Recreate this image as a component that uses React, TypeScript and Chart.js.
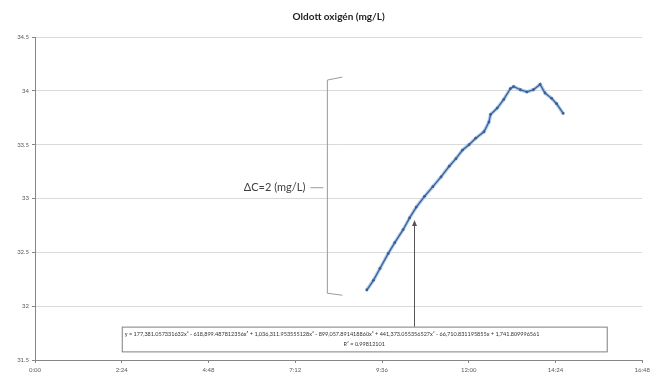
import React, { useEffect, useRef } from "react";
import { Chart, registerables } from "chart.js";

Chart.register(...registerables);

// time of day as fraction of a day
const times = [
  0.3824, 0.3901, 0.3976, 0.4072, 0.4147, 0.4243, 0.4318, 0.4395, 0.449, 0.4586,
  0.468, 0.4775, 0.4852, 0.4928, 0.5003, 0.508, 0.5175, 0.5232, 0.5251, 0.5328,
  0.5403, 0.5479, 0.5517, 0.5594, 0.567, 0.5745, 0.5822, 0.5879, 0.5955, 0.6012, 0.6088,
];
// dissolved oxygen (mg/L)
const oxygen = [
  32.15, 32.24, 32.35, 32.49, 32.59, 32.71, 32.82, 32.92, 33.02, 33.11,
  33.2, 33.3, 33.37, 33.45, 33.5, 33.56, 33.62, 33.71, 33.78, 33.84,
  33.92, 34.02, 34.04, 34.01, 33.99, 34.01, 34.06, 33.98, 33.93, 33.88, 33.79,
];

const title = "Oldott oxigén (mg/L)";
const deltaLabel = "ΔC=2 (mg/L)";
const equation =
  "y = 177,381.057331632x⁶ - 618,899.487812356x⁵ + 1,036,311.953555128x⁴ - 899,057.891418860x³ + 441,373.055356527x² - 66,710.831195855x + 1,741.809996561";
const rSquared = "R² = 0.99812101";

// annotation anchors in data units
const bracket = { x: 0.337, top: 34.1, bottom: 32.12, mid: 33.1 };
const arrow = { x: 0.437, tip: 32.8 };
const eqBox = { x0: 0.1, x1: 0.659, y0: 31.81, y1: 31.58 };

const xMin = 0, xMax = 0.7, xStep = 0.1;
const yMin = 31.5, yMax = 34.5, yStep = 0.5;

function fmtTime(v: number) {
  const mins = Math.round(v * 24 * 60);
  const h = Math.floor(mins / 60);
  const m = mins % 60;
  return h + ":" + String(m).padStart(2, "0");
}

const FONT = "Lato, 'Open Sans', 'DejaVu Sans', sans-serif";

export default function App() {
  const ref = useRef<HTMLCanvasElement | null>(null);

  useEffect(() => {
    if (!ref.current) return;
    const pts = times.map((t, i) => ({ x: t, y: oxygen[i] }));

    const overlay = {
      id: "overlay",
      afterDatasetsDraw(chart: any) {
        const ctx = chart.ctx;
        const xs = chart.scales.x;
        const ys = chart.scales.y;
        const ca = chart.chartArea;
        ctx.save();
        // title
        ctx.fillStyle = "#1f1f1f";
        ctx.font = "bold 10px " + FONT;
        ctx.textAlign = "center";
        ctx.textBaseline = "middle";
        ctx.fillText(title, (ca.left + ca.right) / 2, 17);

        // bracket
        const bx = xs.getPixelForValue(bracket.x);
        const bt = ys.getPixelForValue(bracket.top);
        const bb = ys.getPixelForValue(bracket.bottom);
        const bm = ys.getPixelForValue(bracket.mid);
        ctx.strokeStyle = "#9a9a9a";
        ctx.lineWidth = 1;
        ctx.beginPath();
        ctx.moveTo(bx + 15, bt - 3);
        ctx.lineTo(bx, bt);
        ctx.lineTo(bx, bb);
        ctx.lineTo(bx + 15, bb + 2);
        ctx.moveTo(bx - 4, bm);
        ctx.lineTo(bx - 17, bm);
        ctx.stroke();
        ctx.fillStyle = "#404040";
        ctx.font = "11px " + FONT;
        ctx.textAlign = "right";
        ctx.fillText(deltaLabel, bx - 22, bm);

        // equation box
        const ex0 = xs.getPixelForValue(eqBox.x0);
        const ex1 = xs.getPixelForValue(eqBox.x1);
        const ey0 = ys.getPixelForValue(eqBox.y0);
        const ey1 = ys.getPixelForValue(eqBox.y1);
        ctx.fillStyle = "#ffffff";
        ctx.fillRect(ex0, ey0, ex1 - ex0, ey1 - ey0);
        ctx.strokeStyle = "#7f7f7f";
        ctx.strokeRect(ex0 + 0.5, ey0 + 0.5, ex1 - ex0, ey1 - ey0);
        ctx.fillStyle = "#333333";
        ctx.font = "5.5px " + FONT;
        ctx.textAlign = "left";
        ctx.fillText(equation, ex0 + 3, ey0 + 8);
        ctx.textAlign = "center";
        ctx.fillText(rSquared, (ex0 + ex1) / 2 + 0, ey0 + 18);

        // arrow
        const ax = Math.round(xs.getPixelForValue(arrow.x)) + 0.5;
        const at = ys.getPixelForValue(arrow.tip);
        ctx.strokeStyle = "#555555";
        ctx.beginPath();
        ctx.moveTo(ax, ey0);
        ctx.lineTo(ax, at + 2);
        ctx.stroke();
        ctx.fillStyle = "#555555";
        ctx.beginPath();
        ctx.moveTo(ax, at);
        ctx.lineTo(ax - 2.5, at + 6);
        ctx.lineTo(ax + 2.5, at + 6);
        ctx.closePath();
        ctx.fill();
        ctx.restore();
      },
    };

    const chart = new Chart(ref.current, {
      type: "scatter",
      data: {
        datasets: [
          {
            data: pts,
            showLine: true,
            borderColor: "rgba(150,190,235,0.8)",
            borderWidth: 3.5,
            pointRadius: 0,
            order: 2,
          },
          {
            data: pts,
            showLine: true,
            borderColor: "#3f5f8f",
            backgroundColor: "#3f5f8f",
            borderWidth: 1.3,
            pointRadius: 1.4,
            pointBorderWidth: 0,
            order: 1,
          },
        ],
      },
      options: {
        responsive: false,
        animation: false,
        layout: { padding: { top: 37, right: 5, left: 0, bottom: 0 } },
        plugins: { legend: { display: false }, title: { display: false }, tooltip: { enabled: false } },
        scales: {
          x: {
            type: "linear",
            min: xMin,
            max: xMax,
            ticks: {
              stepSize: xStep,
              color: "#595959",
              font: { size: 6, family: FONT },
              padding: 3,
              maxRotation: 0,
              callback: (v: any) => fmtTime(Number(v)),
            },
            grid: { display: true, drawOnChartArea: false, tickLength: 3, color: "#868686" },
            border: { display: true, color: "#868686" },
            afterFit: (s: any) => { s.height = 19; },
          },
          y: {
            min: yMin,
            max: yMax,
            ticks: {
              stepSize: yStep,
              color: "#595959",
              font: { size: 6, family: FONT },
              padding: 3,
              callback: (v: any) => String(Number(v)),
            },
            grid: { color: "#d9d9d9", tickLength: 3, tickColor: "#868686" },
            border: { display: true, color: "#868686" },
            afterFit: (s: any) => { s.width = 35; },
          },
        },
      },
      plugins: [overlay],
    });
    return () => chart.destroy();
  }, []);

  return (
    <div style={{ position: "fixed", left: 0, top: 0, width: 653, height: 379, background: "#fff" }}>
      <canvas ref={ref} width={653} height={379} style={{ width: 653, height: 379 }} />
    </div>
  );
}
